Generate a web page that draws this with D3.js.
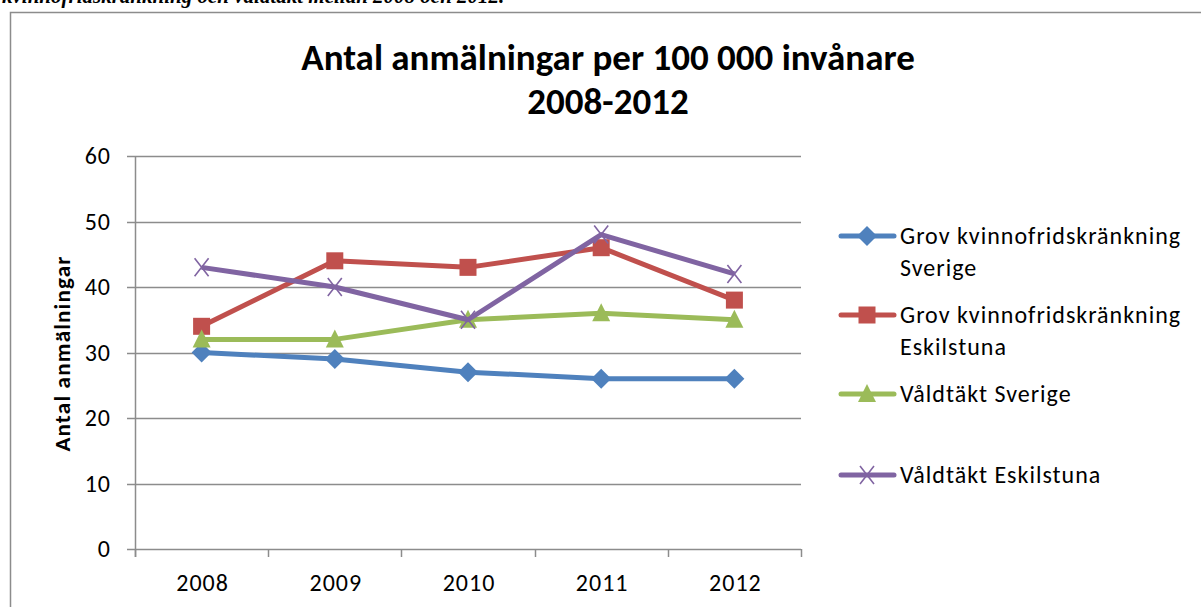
<!DOCTYPE html>
<html>
<head>
<meta charset="utf-8">
<script src="https://cdn.jsdelivr.net/npm/d3@7"></script>
<style>
  body { margin: 0; background: #fff; }
  svg { display: block; }
  text { font-family: Carlito, Calibri, Lato, 'Open Sans', sans-serif; fill: #000; }
</style>
</head>
<body>
<svg id="chart" width="1201" height="607"></svg>
<script>
/* Line chart: reports per 100 000 inhabitants, 2008-2012 */

const years = ['2008', '2009', '2010', '2011', '2012'];
const yTicks = [0, 10, 20, 30, 40, 50, 60];

const grovSverige = [30, 29, 27, 26, 26];
const grovEskilstuna = [34, 44, 43, 46, 38];
const valdtaktSverige = [32, 32, 35, 36, 35];
const valdtaktEskilstuna = [43, 40, 35, 48, 42];

const seriesNames = [
  ['Grov kvinnofridskränkning', 'Sverige'],
  ['Grov kvinnofridskränkning', 'Eskilstuna'],
  ['Våldtäkt Sverige'],
  ['Våldtäkt Eskilstuna'],
];

const colors = {
  blue: '#4F81BD',
  red: '#C0504D',
  green: '#9BBB59',
  purple: '#8064A2',
  grid: '#8c8c8c',
};

const series = [
  { name: seriesNames[0], values: grovSverige, color: colors.blue, marker: 'diamond' },
  { name: seriesNames[1], values: grovEskilstuna, color: colors.red, marker: 'square' },
  { name: seriesNames[2], values: valdtaktSverige, color: colors.green, marker: 'triangle' },
  { name: seriesNames[3], values: valdtaktEskilstuna, color: colors.purple, marker: 'cross' },
];

const svg = d3.select('#chart');

// caption from the surrounding document, cut off at the top
svg.append('text')
  .attr('x', 2)
  .attr('y', 3)
  .style('font-family', "'Liberation Serif', 'Times New Roman', serif")
  .style('font-style', 'italic')
  .style('font-weight', 'bold')
  .style('font-size', '21px')
  .text('kvinnofridskränkning och våldtäkt mellan 2008 och 2012.');

// chart frame (right edge falls outside the picture)
svg.append('path')
  .attr('d', 'M10.5,607 V12.5 H1201')
  .attr('fill', 'none')
  .attr('stroke', colors.grid)
  .attr('stroke-width', 1.5);

const plot = { left: 135, right: 801, top: 156, bottom: 549 };

const x = d3.scaleBand().domain(years).range([plot.left, plot.right]);
const y = d3.scaleLinear().domain([0, 60]).range([plot.bottom, plot.top]);

// title
const title = svg.append('text')
  .attr('text-anchor', 'middle')
  .style('font-size', '37px')
  .style('font-weight', 'bold');
title.append('tspan').attr('x', 608).attr('y', 70).text('Antal anmälningar per 100 000 invånare');
title.append('tspan').attr('x', 608).attr('y', 114).text('2008-2012');

// gridlines
svg.append('g')
  .selectAll('line')
  .data(yTicks)
  .join('line')
  .attr('x1', plot.left - 8)
  .attr('x2', plot.right)
  .attr('y1', (d) => Math.round(y(d)) + 0.5)
  .attr('y2', (d) => Math.round(y(d)) + 0.5)
  .attr('stroke', colors.grid)
  .attr('stroke-width', 1.5);

// y axis
svg.append('line')
  .attr('x1', plot.left + 0.5).attr('x2', plot.left + 0.5)
  .attr('y1', plot.top).attr('y2', plot.bottom + 8)
  .attr('stroke', colors.grid)
  .attr('stroke-width', 1.5);

svg.append('g')
  .selectAll('text')
  .data(yTicks)
  .join('text')
  .attr('x', 111)
  .attr('y', (d) => y(d) + 8)
  .attr('text-anchor', 'end')
  .style('font-size', '24px')
  .style('letter-spacing', '1px')
  .text((d) => d);

svg.append('text')
  .attr('transform', `translate(70,${(plot.top + plot.bottom) / 2 + 1}) rotate(-90)`)
  .attr('text-anchor', 'middle')
  .style('font-size', '23px')
  .style('font-weight', 'bold')
  .style('letter-spacing', '1.2px')
  .text('Antal anmälningar');

// x axis ticks at category boundaries
const boundaries = years.map((d) => x(d)).concat([plot.right]);
svg.append('g')
  .selectAll('line')
  .data(boundaries)
  .join('line')
  .attr('x1', (d) => Math.round(d) + 0.5)
  .attr('x2', (d) => Math.round(d) + 0.5)
  .attr('y1', plot.bottom)
  .attr('y2', plot.bottom + 8)
  .attr('stroke', colors.grid)
  .attr('stroke-width', 1.5);

svg.append('g')
  .selectAll('text')
  .data(years)
  .join('text')
  .attr('x', (d) => x(d) + x.bandwidth() / 2 + 1)
  .attr('y', plot.bottom + 42)
  .attr('text-anchor', 'middle')
  .style('font-size', '24px')
  .style('letter-spacing', '1px')
  .text((d) => d);

function drawMarker(g, kind, color) {
  if (kind === 'diamond') {
    g.append('path').attr('d', 'M0,-10 L10,0 L0,10 L-10,0 Z').attr('fill', color);
  } else if (kind === 'square') {
    g.append('rect').attr('x', -8.5).attr('y', -8.5).attr('width', 17).attr('height', 17).attr('fill', color);
  } else if (kind === 'triangle') {
    g.append('path').attr('d', 'M0,-10 L9,8 L-9,8 Z').attr('fill', color);
  } else {
    g.append('path').attr('d', 'M-7,-9 L7,9 M-7,9 L7,-9')
      .attr('stroke', color).attr('stroke-width', 1.6).attr('fill', 'none');
  }
}

const line = d3.line()
  .x((d, i) => x(years[i]) + x.bandwidth() / 2)
  .y((d) => y(d));

series.forEach((s) => {
  const g = svg.append('g');
  g.append('path')
    .attr('d', line(s.values))
    .attr('fill', 'none')
    .attr('stroke', s.color)
    .attr('stroke-width', 5)
    .attr('stroke-linejoin', 'round');
  s.values.forEach((v, i) => {
    const m = g.append('g')
      .attr('transform', `translate(${x(years[i]) + x.bandwidth() / 2},${y(v)})`);
    drawMarker(m, s.marker, s.color);
  });
});

// legend
const legendY = [236, 315, 394, 475];
series.forEach((s, i) => {
  const g = svg.append('g').attr('transform', `translate(0,${legendY[i]})`);
  g.append('line')
    .attr('x1', 841).attr('x2', 894)
    .attr('y1', 0).attr('y2', 0)
    .attr('stroke', s.color)
    .attr('stroke-width', 5)
    .attr('stroke-linecap', 'round');
  const m = g.append('g').attr('transform', 'translate(867,0)');
  drawMarker(m, s.marker, s.color);
  const t = g.append('text').style('font-size', '24px').style('letter-spacing', '1px');
  s.name.forEach((line, j) => {
    t.append('tspan').attr('x', 900).attr('y', 8 + j * 32).text(line);
  });
});
</script>
</body>
</html>
